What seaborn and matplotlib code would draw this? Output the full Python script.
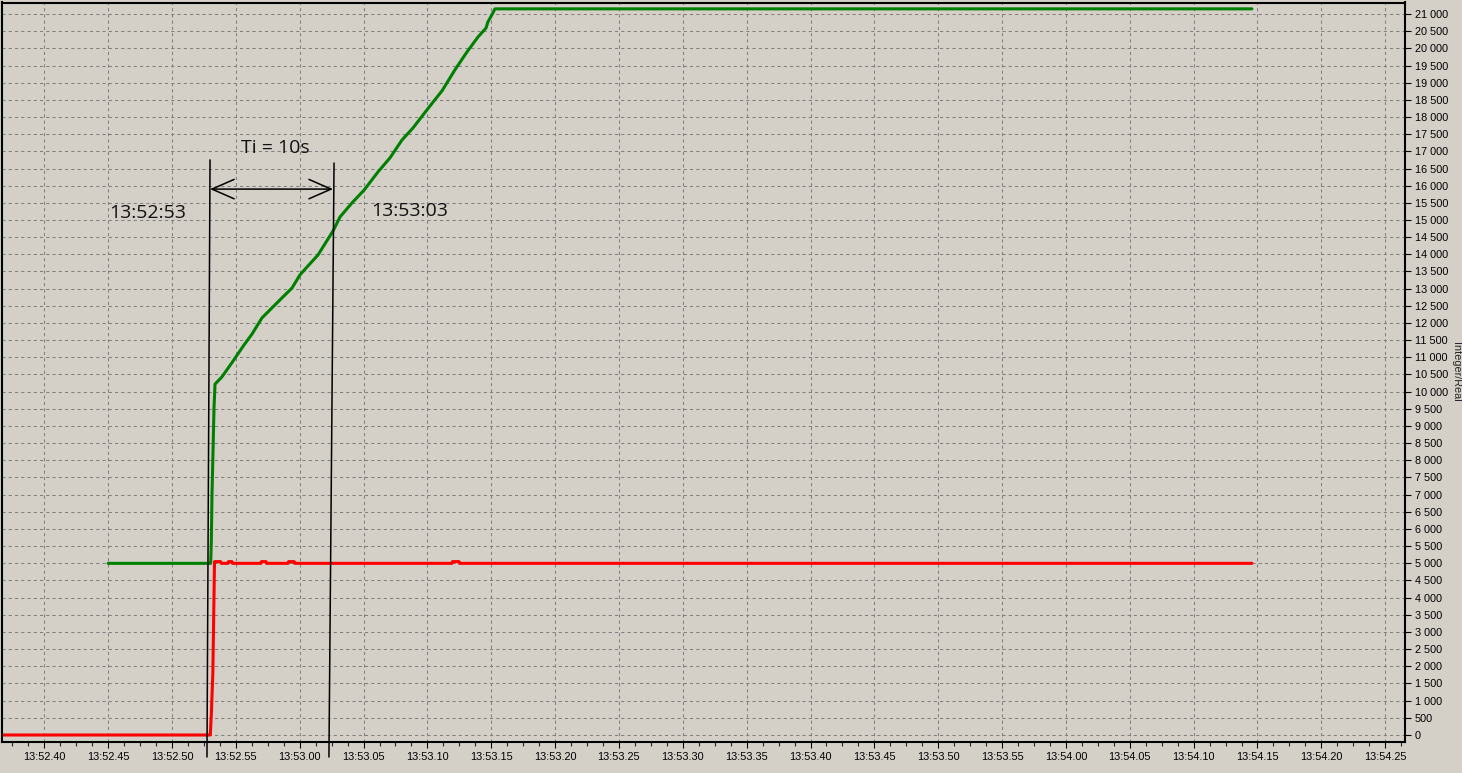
"""
PI controller step response, trend recorder export
"""

import numpy as np
import pandas as pd
import matplotlib
matplotlib.use("Agg")
import matplotlib.pyplot as plt
import seaborn as sns
from matplotlib.ticker import MultipleLocator, FuncFormatter

# ================================= #
# DATA READ OFF THE TREND
# ================================= #

# controller output (green)
green_time = ["13:52:45.00", "13:52:52.92", "13:52:53.03", "13:52:53.08", "13:52:53.13",
              "13:52:53.21", "13:52:53.29", "13:52:53.37", "13:52:53.91", "13:52:54.78",
              "13:52:55.64", "13:52:56.27", "13:52:57.05", "13:52:57.83", "13:52:58.69",
              "13:52:59.40", "13:53:00.02", "13:53:00.57", "13:53:01.43", "13:53:02.61",
              "13:53:03.16", "13:53:04.10", "13:53:05.04", "13:53:06.13", "13:53:07.07",
              "13:53:08.01", "13:53:08.87", "13:53:10.20", "13:53:11.14", "13:53:12.15",
              "13:53:13.09", "13:53:13.96", "13:53:14.59", "13:53:14.74", "13:53:15.13",
              "13:53:15.29", "13:54:14.56"]
green_value = [5000, 5000, 5000, 5620, 6930,
               8210, 9520, 10220, 10430, 10890,
               11360, 11680, 12150, 12440, 12760,
               13020, 13400, 13630, 13980, 14680,
               15090, 15500, 15870, 16400, 16810,
               17330, 17680, 18320, 18760, 19370,
               19890, 20330, 20590, 20770, 21030,
               21150, 21150]

# error / setpoint step (red)
red_time = ["13:52:36.00", "13:52:53.00", "13:52:53.08", "13:52:53.20", "13:52:53.33",
            "13:52:53.81", "13:52:53.85", "13:52:54.39", "13:52:54.42", "13:52:54.70",
            "13:52:54.73", "13:52:56.97", "13:52:57.00", "13:52:57.36", "13:52:57.39",
            "13:52:59.10", "13:52:59.13", "13:52:59.57", "13:52:59.60", "13:53:11.93",
            "13:53:11.96", "13:53:12.48", "13:53:12.51", "13:54:14.56"]
red_value = [0, 0, 600, 1800, 5050,
             5050, 5000, 5000, 5050, 5050,
             5000, 5000, 5050, 5050, 5000,
             5000, 5050, 5050, 5000, 5000,
             5050, 5050, 5000, 5000]

# hand drawn cursors (top, bottom) and the Ti arrow
cursor1_time = ["13:52:52.98", "13:52:52.74"]
cursor2_time = ["13:53:02.69", "13:53:02.29"]
cursor1_value = [16750, -640]
cursor2_value = [16660, -640]
arrow_time = ["13:52:52.98", "13:53:02.61"]
arrow_value = 15900
labels = ["Ti = 10s", "13:52:53", "13:53:03"]
label_time = ["13:52:58.07", "13:52:48.13", "13:53:08.62"]
label_value = [17100, 15200, 15260]

x_start, x_end = "13:52:36.69", "13:54:26.55"
y_min, y_max = -204, 21335


def secs(t):
    return pd.to_timedelta(pd.Series(t)).dt.total_seconds().values


def clock(v, pos):
    v = int(round(v))
    return "%d:%02d.%02d" % (v // 3600, (v % 3600) // 60, v % 60)


def thousands(v, pos):
    return "{:,}".format(int(round(v))).replace(",", " ")


df = pd.concat([
    pd.DataFrame({"t": secs(green_time), "value": green_value, "signal": "output"}),
    pd.DataFrame({"t": secs(red_time), "value": red_value, "signal": "error"}),
])

# ================================= #
# PLOT
# ================================= #

bg = "#d4d0c8"
sns.set_style("ticks", {"axes.facecolor": bg, "figure.facecolor": bg,
                        "axes.edgecolor": "black", "grid.color": "#808080"})
plt.rcParams["font.family"] = ["Liberation Sans", "DejaVu Sans"]

fig = plt.figure(figsize=(14.62, 7.73), dpi=100)
ax = fig.add_axes([2 / 1462, 31 / 773, 1403 / 1462, 739.5 / 773])

sns.lineplot(data=df, x="t", y="value", hue="signal", hue_order=["output", "error"],
             palette=["#008000", "#ff0000"], estimator=None, sort=False,
             linewidth=2.2, legend=False, ax=ax)

ax.set_xlim(secs([x_start])[0], secs([x_end])[0])
ax.set_ylim(y_min, y_max)

ax.xaxis.set_major_locator(MultipleLocator(5))
ax.xaxis.set_minor_locator(MultipleLocator(1.25))
ax.xaxis.set_major_formatter(FuncFormatter(clock))
ax.yaxis.set_major_locator(MultipleLocator(500))
ax.yaxis.set_major_formatter(FuncFormatter(thousands))
ax.yaxis.tick_right()
ax.yaxis.set_label_position("right")

ax.tick_params(axis="both", which="major", labelsize=7.8, length=4, width=0.8,
               colors="black", pad=3)
ax.tick_params(axis="x", which="minor", length=3, width=0.8)
ax.grid(True, which="major", linestyle=(0, (3, 3)), linewidth=0.75, color="#808080")
for s in ax.spines.values():
    s.set_linewidth(1.5)

ax.set_xlabel("")
ax.set_ylabel("Integer/Real", rotation=270, fontsize=7.8, labelpad=9)

# annotation: cursors, arrow and labels
ax.plot(secs(cursor1_time), cursor1_value, color="black", lw=1.1, clip_on=False, zorder=5)
ax.plot(secs(cursor2_time), cursor2_value, color="black", lw=1.1, clip_on=False, zorder=5)
at = secs(arrow_time)
ax.annotate("", xy=(at[1], arrow_value), xytext=(at[0], arrow_value),
            arrowprops=dict(arrowstyle="<->,head_length=1.6,head_width=0.7",
                            lw=1.1, color="black", mutation_scale=10,
                            shrinkA=0, shrinkB=0))
for txt, tt, vv in zip(labels, secs(label_time), label_value):
    ax.text(tt, vv, txt, ha="center", va="center", fontsize=14,
            family=["Open Sans", "DejaVu Sans"], color="#111111")

fig.savefig("out.png", dpi=100, facecolor=bg)
plt.close("all")
